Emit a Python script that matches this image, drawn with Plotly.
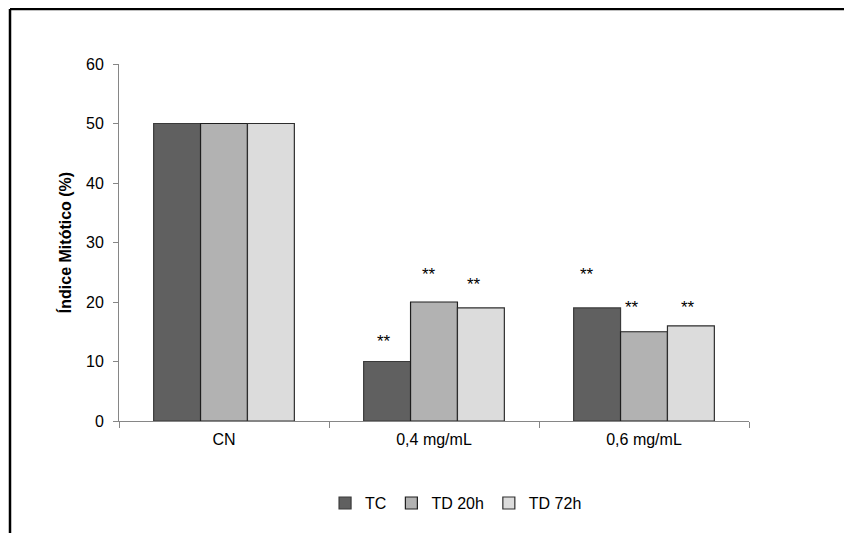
import plotly.graph_objects as go

categories = ["CN", "0,4 mg/mL", "0,6 mg/mL"]
series_names = ["TC", "TD 20h", "TD 72h"]
tc = [50, 10, 19]
td20 = [50, 20, 15]
td72 = [50, 19, 16]
# significance marks
star_cats = ["0,4 mg/mL", "0,4 mg/mL", "0,4 mg/mL", "0,6 mg/mL", "0,6 mg/mL", "0,6 mg/mL"]
star_y = [13.4, 24.7, 22.9, 24.7, 19.0, 19.0]
star_text = ["**", "**", "**", "**", "**", "**"]

star_shift = [-50, -5, 40, -57, -12, 44]
colors = ["#606060", "#b2b2b2", "#dcdcdc"]
outlines = ["#3a3a3a", "#1e1e1e", "#2e2e2e"]
font_family = "Arial, Liberation Sans, sans-serif"

fig = go.Figure()
for name, vals, col, oc in zip(series_names, [tc, td20, td72], colors, outlines):
    fig.add_trace(go.Bar(
        x=categories, y=vals, name=name,
        marker=dict(color=col, line=dict(color=oc, width=1.2)),
    ))

for c, yv, t, s in zip(star_cats, star_y, star_text, star_shift):
    fig.add_annotation(x=c, y=yv, text=t, showarrow=False, xshift=s,
                       font=dict(family=font_family, size=17, color="black"),
                       yanchor="middle")

# page has an 8px body margin; figure sized to fit
FW, FH = 844, 525
L, T = 111, 56
W, H = 630, 357
# frame (top and left lines only), in page pixels -> paper coords
x_left = (10 - 119) / W
y_top = (421 - 9) / H
fig.add_shape(type="line", xref="paper", yref="paper", x0=x_left, x1=x_left,
              y0=-0.5, y1=y_top, line=dict(color="black", width=2.5))
fig.add_shape(type="line", xref="paper", yref="paper", x0=x_left, x1=1.3,
              y0=y_top, y1=y_top, line=dict(color="black", width=2.5))

fig.update_layout(
    width=FW, height=FH,
    margin=dict(l=L, r=FW - L - W, t=T, b=FH - T - H),
    paper_bgcolor="white", plot_bgcolor="white",
    barmode="group", bargap=0.33, bargroupgap=0,
    font=dict(family=font_family, size=16, color="black"),
    showlegend=True,
    legend=dict(orientation="h", x=0.535, xanchor="center", y=-0.23, yanchor="middle",
                font=dict(size=16, color="black"), itemwidth=30, traceorder="normal"),
    xaxis=dict(showline=True, linecolor="#868686", linewidth=1,
               ticks="outside", tickson="boundaries", ticklen=6, tickcolor="#868686",
               ticklabelstandoff=4,
               tickfont=dict(size=16, color="black"), showgrid=False),
    yaxis=dict(range=[0, 60], dtick=10, showline=True, linecolor="#868686", linewidth=1,
               ticks="outside", ticklen=5, tickcolor="#868686", showgrid=False,
               ticklabelstandoff=6,
               zeroline=False, tickfont=dict(size=16, color="black"),
               title=dict(text="<b>Índice Mitótico (%)</b>", font=dict(size=16, color="black"),
                          standoff=10)),
)

fig.write_html("out.html")
